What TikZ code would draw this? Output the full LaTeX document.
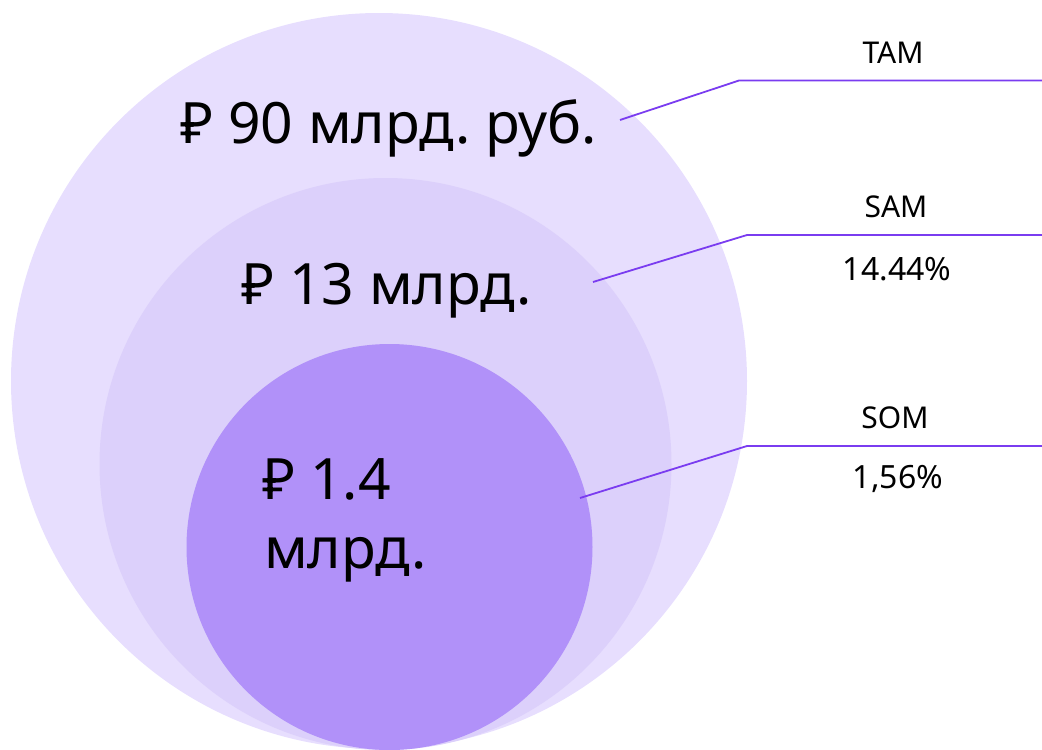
\documentclass[tikz,border=0pt]{standalone}
\usepackage{fontspec}
\setmainfont{Noto Sans}
\usepackage{xcolor}
\usepackage{tikz}
\usetikzlibrary{calc}

\definecolor{tamfill}{RGB}{231,222,254}
\definecolor{samfill}{RGB}{220,208,251}
\definecolor{somfill}{RGB}{177,145,249}
\definecolor{leader}{RGB}{122,60,240}

\tikzset{
  value/.style={anchor=base west, inner sep=0pt, font=\fontsize{57}{60}\selectfont},
  tag/.style={anchor=base, inner sep=0pt, font=\fontsize{30}{33}\selectfont},
  share/.style={anchor=base, inner sep=0pt, font=\fontsize{32}{35}\selectfont},
  leadline/.style={draw=leader, line width=1.8pt}
}

\begin{document}
\frenchspacing
\begin{tikzpicture}[x=1pt,y=-1pt]
\useasboundingbox (0,0) rectangle (1042,750);
% circles
\fill[tamfill] (379,381) circle (368);
\fill[samfill] (385.5,464) circle (286);
\fill[somfill] (389.5,547) circle (203);
% values
\node[value] (tamval) at (180,143) {₽ 90 млрд. руб.};
\node[value] (samval) at (241,304) {₽ 13 млрд.};
\node[value] (somval) at (262,499) {₽ 1.4};
\node[value] (somval2) at (264,568) {млрд.};
% leader lines
\coordinate (tamfoot) at (620,120);
\coordinate (tamknee) at (739,80.5);
\coordinate (tamend) at (1042,80.5);
\coordinate (samfoot) at (593,282);
\coordinate (samknee) at (747,235);
\coordinate (samend) at (1042,235);
\coordinate (somfoot) at (580,498);
\coordinate (somknee) at (747,446);
\coordinate (somend) at (1042,446);
\draw[leadline] (tamfoot) -- (tamknee) -- (tamend);
\draw[leadline] (samfoot) -- (samknee) -- (samend);
\draw[leadline] (somfoot) -- (somknee) -- (somend);
% labels
\node[tag] (tam) at (893,63) {TAM};
\node[tag] (sam) at (896,217) {SAM};
\node[share] (samp) at (897,280) {14.44\%};
\node[tag] (som) at (895,428) {SOM};
\node[share] (somp) at (898,488) {1,56\%};
\end{tikzpicture}
\end{document}
